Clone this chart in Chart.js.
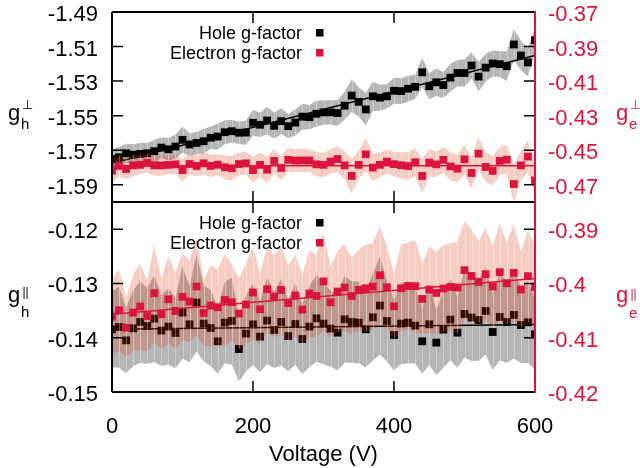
<!DOCTYPE html>
<html>
<head>
<meta charset="utf-8">
<script src="https://cdn.jsdelivr.net/npm/chart.js@4.4.1/dist/chart.umd.min.js"></script>
<style>
  html, body { margin: 0; padding: 0; background: #fff; }
  canvas { display: block; }
</style>
</head>
<body>
<canvas id="chart" width="640" height="468"></canvas>
<script>
// x values (V)
const voltage = [0,10,20,30,40,50,60,70,80,90,100,110,120,130,140,150,160,170,180,190,
  200,210,220,230,240,250,260,270,280,290,300,310,320,330,340,350,360,370,380,390,
  400,410,420,430,440,450,460,470,480,490,500,510,520,530,540,550,560,570,580,590,600];

// top panel: g perpendicular
const holeTop = [-1.5751,-1.5741,-1.5718,-1.5726,-1.5722,-1.5718,-1.5706,-1.5685,-1.5695,-1.5679,
  -1.5640,-1.5667,-1.5658,-1.5648,-1.5628,-1.5621,-1.5596,-1.5590,-1.5599,-1.5598,
  -1.5541,-1.5553,-1.5528,-1.5559,-1.5532,-1.5561,-1.5540,-1.5506,-1.5509,-1.5489,
  -1.5481,-1.5481,-1.5485,-1.5442,-1.5384,-1.5420,-1.5464,-1.5388,-1.5396,-1.5388,
  -1.5356,-1.5358,-1.5344,-1.5333,-1.5249,-1.5330,-1.5307,-1.5323,-1.5280,-1.5253,
  -1.5253,-1.5210,-1.5274,-1.5222,-1.5198,-1.5202,-1.5214,-1.5088,-1.5152,-1.5192,-1.5063];
const holeTopErr = [0.0055,0.0060,0.0055,0.0060,0.0065,0.0060,0.0065,0.0060,0.0065,0.0070,
  0.0075,0.0065,0.0065,0.0070,0.0065,0.0075,0.0070,0.0065,0.0065,0.0070,
  0.0075,0.0070,0.0080,0.0075,0.0075,0.0070,0.0075,0.0075,0.0070,0.0075,
  0.0070,0.0070,0.0075,0.0080,0.0095,0.0085,0.0095,0.0085,0.0075,0.0070,
  0.0075,0.0075,0.0075,0.0070,0.0085,0.0075,0.0080,0.0075,0.0080,0.0075,
  0.0080,0.0075,0.0085,0.0080,0.0075,0.0075,0.0085,0.0090,0.0085,0.0080,0.0075];
const electronTop = [-0.4619,-0.4591,-0.4609,-0.4588,-0.4585,-0.4574,-0.4588,-0.4588,-0.4585,-0.4582,
  -0.4615,-0.4580,-0.4591,-0.4576,-0.4591,-0.4584,-0.4599,-0.4605,-0.4580,-0.4576,
  -0.4615,-0.4585,-0.4613,-0.4562,-0.4603,-0.4556,-0.4560,-0.4559,-0.4560,-0.4582,
  -0.4585,-0.4566,-0.4551,-0.4588,-0.4649,-0.4585,-0.4524,-0.4601,-0.4585,-0.4566,
  -0.4581,-0.4587,-0.4592,-0.4570,-0.4649,-0.4572,-0.4582,-0.4556,-0.4594,-0.4607,
  -0.4553,-0.4632,-0.4520,-0.4597,-0.4620,-0.4562,-0.4555,-0.4696,-0.4588,-0.4537,-0.4675];
const electronTopErr = [0.0065,0.0060,0.0060,0.0060,0.0055,0.0055,0.0060,0.0060,0.0055,0.0055,
  0.0065,0.0060,0.0060,0.0065,0.0065,0.0060,0.0070,0.0070,0.0065,0.0065,
  0.0075,0.0070,0.0075,0.0070,0.0070,0.0070,0.0065,0.0070,0.0065,0.0070,
  0.0070,0.0070,0.0075,0.0080,0.0100,0.0080,0.0095,0.0080,0.0070,0.0070,
  0.0070,0.0075,0.0080,0.0080,0.0100,0.0080,0.0075,0.0075,0.0080,0.0080,
  0.0085,0.0090,0.0095,0.0085,0.0085,0.0080,0.0085,0.0110,0.0085,0.0095,0.0080];

// bottom panel: g parallel
const holeBot = [-0.13845,-0.13803,-0.14048,-0.13827,-0.13710,-0.13784,-0.13648,-0.13869,-0.13795,-0.13913,
  -0.13537,-0.13753,-0.13352,-0.13740,-0.13821,-0.14066,-0.13721,-0.13692,-0.14208,-0.13924,
  -0.13753,-0.13980,-0.13684,-0.13858,-0.13710,-0.13969,-0.13747,-0.14024,-0.13795,-0.13642,
  -0.13740,-0.13832,-0.13906,-0.13661,-0.13710,-0.13721,-0.13845,-0.13624,-0.13408,-0.13692,
  -0.13950,-0.13740,-0.13721,-0.13777,-0.14066,-0.13753,-0.14090,-0.13851,-0.13666,-0.13906,
  -0.13563,-0.13629,-0.13673,-0.13507,-0.13895,-0.13618,-0.13710,-0.13581,-0.13766,-0.13716,-0.13937];
const holeBotErr = [0.0070,0.0075,0.0060,0.0070,0.0075,0.0070,0.0080,0.0065,0.0070,0.0065,
  0.0085,0.0070,0.0090,0.0070,0.0070,0.0060,0.0075,0.0080,0.0060,0.0070,
  0.0075,0.0065,0.0080,0.0070,0.0080,0.0065,0.0075,0.0065,0.0075,0.0080,
  0.0075,0.0070,0.0070,0.0080,0.0075,0.0075,0.0070,0.0080,0.0090,0.0075,
  0.0065,0.0075,0.0075,0.0070,0.0060,0.0075,0.0060,0.0070,0.0075,0.0065,
  0.0080,0.0080,0.0075,0.0080,0.0070,0.0080,0.0075,0.0080,0.0070,0.0075,0.0065];
const electronBot = [-0.40611,-0.40494,-0.40814,-0.40537,-0.40426,-0.40600,-0.40181,-0.40568,-0.40292,-0.40507,
  -0.40249,-0.40334,-0.40057,-0.40544,-0.40408,-0.40439,-0.40304,-0.40347,-0.40555,-0.40389,
  -0.40168,-0.40476,-0.40107,-0.40242,-0.40120,-0.40360,-0.40223,-0.40482,-0.40186,-0.40231,
  -0.39963,-0.40347,-0.40149,-0.40076,-0.40231,-0.40120,-0.40089,-0.40057,-0.39849,-0.40070,
  -0.40421,-0.40089,-0.40046,-0.40052,-0.40286,-0.40113,-0.40175,-0.40094,-0.40065,-0.40076,
  -0.39756,-0.39862,-0.39972,-0.39830,-0.40057,-0.39793,-0.39996,-0.39806,-0.40113,-0.39867,-0.40070];
const electronBotErr = [0.0070,0.0075,0.0055,0.0070,0.0080,0.0065,0.0090,0.0065,0.0080,0.0070,
  0.0080,0.0075,0.0090,0.0060,0.0075,0.0070,0.0085,0.0070,0.0065,0.0075,
  0.0085,0.0065,0.0080,0.0075,0.0080,0.0070,0.0075,0.0065,0.0080,0.0075,
  0.0090,0.0065,0.0075,0.0080,0.0070,0.0075,0.0080,0.0080,0.0090,0.0075,
  0.0060,0.0080,0.0080,0.0085,0.0065,0.0080,0.0075,0.0080,0.0080,0.0085,
  0.0090,0.0085,0.0075,0.0085,0.0075,0.0090,0.0075,0.0090,0.0070,0.0085,0.0075];

// linear fits (end points)
const fitX = [0, 600];
const holeTopFit = [-1.5776, -1.5151];
const electronTopFit = [-0.4590, -0.4590];
const holeBotFit = [-0.13845, -0.13758];
const electronBotFit = [-0.40568, -0.39911];

// axis ticks
const xTicks = [0, 200, 400, 600];
const topLeftTicks = [-1.59, -1.57, -1.55, -1.53, -1.51, -1.49];
const topLeftLabels = ['-1.59', '-1.57', '-1.55', '-1.53', '-1.51', '-1.49'];
const topRightTicks = [-0.47, -0.45, -0.43, -0.41, -0.39, -0.37];
const topRightLabels = ['-0.47', '-0.45', '-0.43', '-0.41', '-0.39', '-0.37'];
const botLeftTicks = [-0.15, -0.14, -0.13, -0.12];
const botLeftLabels = ['-0.15', '-0.14', '-0.13', '-0.12'];
const botRightTicks = [-0.42, -0.41, -0.40, -0.39];
const botRightLabels = ['-0.42', '-0.41', '-0.4', '-0.39'];

const seriesNames = ['Hole g-factor', 'Electron g-factor'];

const FONT = "'Liberation Sans', Arial, sans-serif";
const RED = '#dc143c';
const GRAY_BAND = 'rgba(0,0,0,0.29)';
const PINK_BAND = 'rgba(215,55,15,0.25)';

function pts(xs, ys, off, sign) {
  return xs.map((x, i) => ({x: x, y: ys[i] + (off ? sign * off[i] : 0)}));
}

function band(vals, errs, axis, color, order) {
  return [
    {data: pts(voltage, vals, errs, 1), yAxisID: axis, fill: '+1', backgroundColor: color,
     borderColor: 'rgba(0,0,0,0)', borderWidth: 0, pointRadius: 0, order: order, stripes: true},
    {data: pts(voltage, vals, errs, -1), yAxisID: axis, fill: false,
     borderColor: 'rgba(0,0,0,0)', borderWidth: 0, pointRadius: 0, order: order}
  ];
}

function marks(vals, axis, color, order) {
  return {data: pts(voltage, vals), yAxisID: axis, showLine: false, pointStyle: 'rect',
    pointRadius: 5.5, pointBorderWidth: 0, pointBackgroundColor: color, order: order};
}

function fit(vals, axis, color, order) {
  return {data: pts(fitX, vals), yAxisID: axis, borderColor: color, borderWidth: 1.5,
    pointRadius: 0, fill: false, order: order};
}

const datasets = [].concat(
  band(holeTop, holeTopErr, 'yTopL', GRAY_BAND, 6),
  [marks(holeTop, 'yTopL', '#000', 5), fit(holeTopFit, 'yTopL', '#000', 4)],
  band(electronTop, electronTopErr, 'yTopR', PINK_BAND, 3),
  [marks(electronTop, 'yTopR', RED, 2), fit(electronTopFit, 'yTopR', RED, 1)],
  band(holeBot, holeBotErr, 'yBotL', GRAY_BAND, 6),
  [marks(holeBot, 'yBotL', '#000', 5), fit(holeBotFit, 'yBotL', '#000', 4)],
  band(electronBot, electronBotErr, 'yBotR', PINK_BAND, 3),
  [marks(electronBot, 'yBotR', RED, 2), fit(electronBotFit, 'yBotR', RED, 1)]
);

function yScale(pos, weight, min, max, ticks, labels, color) {
  return {
    type: 'linear', position: pos, stack: pos, stackWeight: 1, weight: weight,
    min: min, max: max,
    afterBuildTicks: s => { s.ticks = ticks.map(v => ({value: v})); },
    afterFit: s => {
      s.width = pos === 'left' ? 112 : 105;
      s.paddingTop = 0;
      s.paddingBottom = 0;
    },
    grid: {display: false, drawTicks: false},
    border: {display: false},
    ticks: {color: color, font: {family: FONT, size: 22}, padding: pos === 'left' ? 14 : 13,
      labelOffset: 3, autoSkip: false, callback: (v, i) => labels[i]}
  };
}

// light vertical lines across the error bands, at every sample
const bandStripes = {
  id: 'bandStripes',
  afterDatasetDraw(chart, args) {
    if (!chart.data.datasets[args.index].stripes) return;
    const hi = args.meta.data;
    const lo = chart.getDatasetMeta(args.index + 1).data;
    const ctx = chart.ctx;
    ctx.save();
    ctx.strokeStyle = 'rgba(255,255,255,0.3)';
    ctx.lineWidth = 1;
    ctx.beginPath();
    hi.forEach((p, i) => {
      const x = Math.round(p.x) + 0.5;
      ctx.moveTo(x, p.y);
      ctx.lineTo(x, lo[i].y);
    });
    ctx.stroke();
    ctx.restore();
  }
};

// frame, inside tick marks, legends
const frame = {
  id: 'frame',
  afterDatasetsDraw(chart) {
    const {ctx, chartArea: a, scales} = chart;
    const mid = scales.yTopL.bottom;
    ctx.save();
    ctx.strokeStyle = '#000';
    ctx.lineWidth = 1.5;
    ctx.beginPath();
    [['yTopL', 'yTopR'], ['yBotL', 'yBotR']].forEach(([l, r]) => {
      scales[l].ticks.forEach(t => {
        const y = scales[l].getPixelForValue(t.value);
        ctx.moveTo(a.left, y); ctx.lineTo(a.left + 11, y);
      });
      scales[r].ticks.forEach(t => {
        const y = scales[r].getPixelForValue(t.value);
        ctx.moveTo(a.right, y); ctx.lineTo(a.right - 11, y);
      });
    });
    scales.x.ticks.forEach(t => {
      const x = scales.x.getPixelForValue(t.value);
      ctx.moveTo(x, a.top); ctx.lineTo(x, a.top + 11);
      ctx.moveTo(x, mid - 11); ctx.lineTo(x, mid + 11);
      ctx.moveTo(x, a.bottom - 11); ctx.lineTo(x, a.bottom);
    });
    ctx.stroke();
    ctx.lineWidth = 2;
    ctx.beginPath();
    ctx.moveTo(a.left, a.top); ctx.lineTo(a.right, a.top);
    ctx.moveTo(a.left, mid); ctx.lineTo(a.right, mid);
    ctx.moveTo(a.left, a.bottom); ctx.lineTo(a.right, a.bottom);
    ctx.moveTo(a.left, a.top); ctx.lineTo(a.left, a.bottom);
    ctx.stroke();
    ctx.strokeStyle = RED;
    ctx.beginPath();
    ctx.moveTo(a.right, a.top - 1); ctx.lineTo(a.right, a.bottom + 1);
    ctx.stroke();

    ctx.font = '18px ' + FONT;
    ctx.textAlign = 'right';
    ctx.textBaseline = 'middle';
    [a.top, mid].forEach(top => {
      [['#000', 22], [RED, 42]].forEach(([c, dy], k) => {
        ctx.fillStyle = '#000';
        ctx.fillText(seriesNames[k], a.left + 190, top + dy);
        ctx.fillStyle = c;
        ctx.fillRect(a.left + 204, top + dy - 5, 7.5, 7.5);
      });
    });
    ctx.restore();
  },
  afterDraw(chart) {
    const ctx = chart.ctx;
    ctx.save();
    ctx.textAlign = 'left';
    ctx.textBaseline = 'alphabetic';
    const sym = (x, base, sub, subBase, sup, supX, supBase, supSize, color) => {
      ctx.fillStyle = color;
      ctx.font = '22px ' + FONT;
      ctx.fillText('g', x, base);
      ctx.font = '15px ' + FONT;
      ctx.fillText(sub, x + 13, subBase);
      ctx.font = supSize + 'px ' + FONT;
      ctx.fillText(sup, x + supX, supBase);
    };
    sym(8, 120, 'h', 128.5, '\u22A5', 13.5, 108.5, 13, '#000');
    sym(8, 302, 'h', 317, '||', 14.5, 296, 12, '#000');
    sym(616, 120, 'e', 128.5, '\u22A5', 13.5, 108.5, 13, RED);
    sym(616, 302, 'e', 318, '||', 14.5, 298, 12, RED);
    ctx.restore();
  }
};

new Chart(document.getElementById('chart'), {
  type: 'line',
  data: {datasets: datasets},
  options: {
    responsive: false,
    animation: false,
    events: [],
    layout: {padding: {top: 12, left: 0, right: 0, bottom: 0}},
    plugins: {legend: {display: false}, tooltip: {enabled: false}},
    scales: {
      x: {
        type: 'linear', position: 'bottom', min: 0, max: 600,
        afterBuildTicks: s => { s.ticks = xTicks.map(v => ({value: v})); },
        afterFit: s => { s.height = 76; },
        grid: {display: false, drawTicks: false},
        border: {display: false},
        ticks: {color: '#000', font: {family: FONT, size: 22}, padding: 22, maxRotation: 0, autoSkip: false},
        title: {display: true, text: 'Voltage (V)', color: '#000',
          font: {family: FONT, size: 22}, padding: {top: 0, bottom: 0}}
      },
      yTopL: yScale('left', 1, -1.60, -1.49, topLeftTicks, topLeftLabels, '#000'),
      yBotL: yScale('left', 0, -0.15, -0.115, botLeftTicks, botLeftLabels, '#000'),
      yTopR: yScale('right', 0, -0.48, -0.37, topRightTicks, topRightLabels, RED),
      yBotR: yScale('right', 1, -0.42, -0.385, botRightTicks, botRightLabels, RED)
    }
  },
  plugins: [bandStripes, frame]
});
</script>
</body>
</html>
